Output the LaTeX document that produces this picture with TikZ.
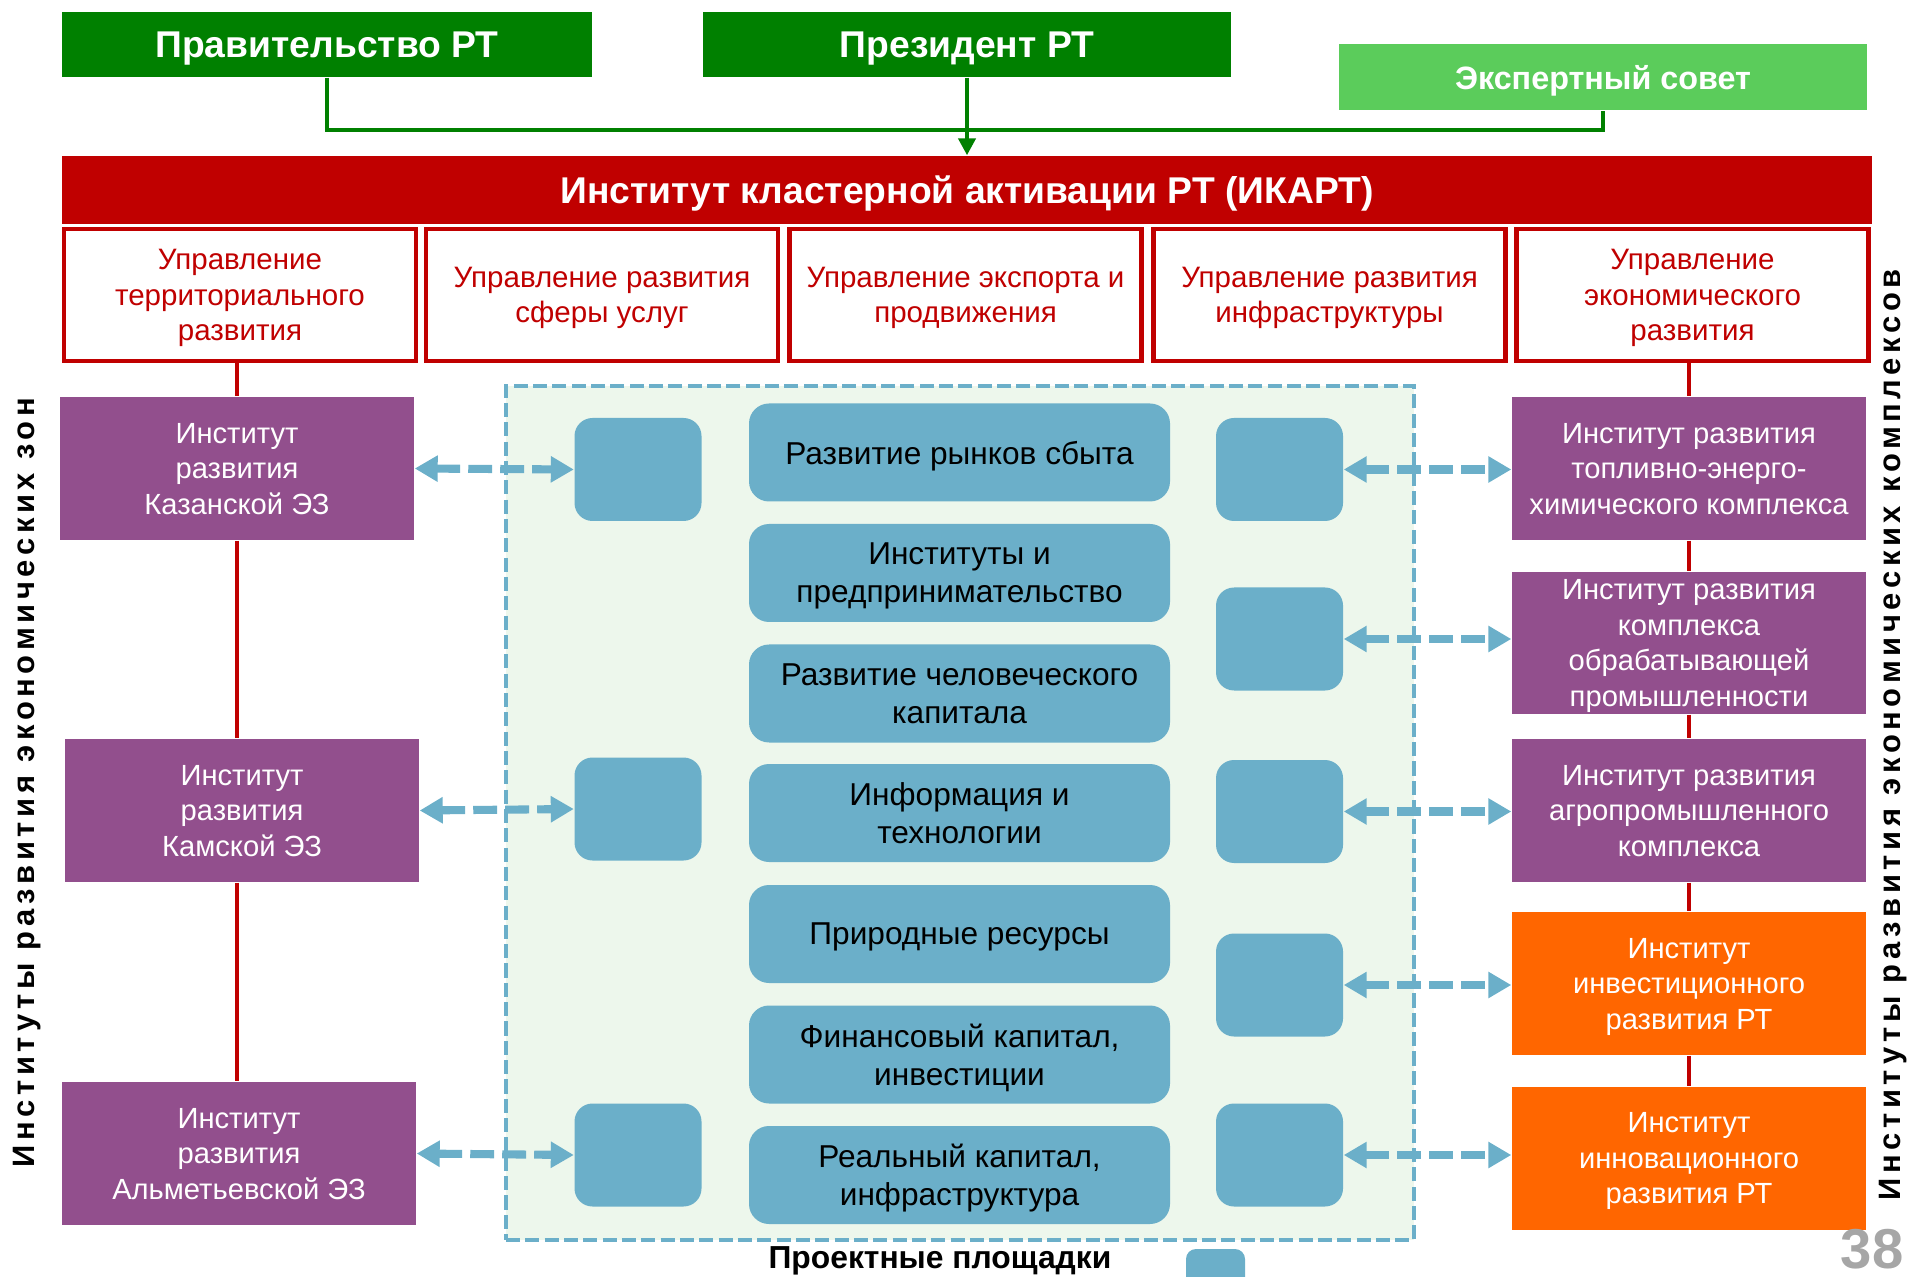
\documentclass[tikz,border=0pt]{standalone}
\usepackage{fontspec}
\setmainfont{Liberation Sans}
\usetikzlibrary{arrows.meta}

\definecolor{govgreen}{HTML}{008000}
\definecolor{expgreen}{HTML}{5BCC5B}
\definecolor{ikred}{HTML}{C00000}
\definecolor{zonepurple}{HTML}{924F8D}
\definecolor{rtorange}{HTML}{FF6600}
\definecolor{siteblue}{HTML}{6BAFC9}
\definecolor{zonefill}{HTML}{EDF7EC}
\definecolor{pagegrey}{HTML}{A6A6A6}

\tikzset{
  topbox/.style={rectangle, fill=govgreen, text=white, inner sep=0pt, text depth=0pt,
    font=\fontsize{10.6}{12}\selectfont\bfseries, minimum height=0.65cm},
  deptbox/.style={rectangle, draw=ikred, line width=1.3pt, fill=white, text=ikred,
    align=center, inner sep=1pt, text depth=0pt, minimum width=3.52cm, minimum height=1.32cm,
    font=\fontsize{8.4}{10.1}\selectfont},
  zonebox/.style={rectangle, fill=zonepurple, text=white, align=center, inner sep=1pt,
    text depth=0pt, minimum width=3.54cm, minimum height=1.43cm,
    font=\fontsize{8.3}{10.1}\selectfont},
  rtbox/.style={zonebox, fill=rtorange},
  factorbox/.style={rectangle, rounded corners=0.2cm, fill=siteblue, align=center,
    inner sep=1pt, text depth=0pt, minimum width=4.21cm, minimum height=0.98cm,
    font=\fontsize{9}{10.8}\selectfont},
  sitebox/.style={rectangle, rounded corners=0.18cm, fill=siteblue,
    minimum width=1.27cm, minimum height=1.03cm},
  link/.style={draw=ikred, line width=0.9pt},
  flow/.style={draw=siteblue, line width=2.3pt, dash pattern=on 6.8pt off 2.3pt,
    {Triangle[length=0.23cm,width=0.25cm]}-{Triangle[length=0.23cm,width=0.25cm]}},
  sidetext/.style={rotate=90, font=\fontsize{8.8}{11}\selectfont\bfseries\addfontfeature{LetterSpace=15}}
}

\begin{document}
\begin{tikzpicture}
    \useasboundingbox (0,0) rectangle (19.15,-12.77);

    % Top level
    \node[topbox, minimum width=5.30cm] (gov) at (3.27,-0.445) {Правительство РТ};
    \node[topbox, minimum width=5.28cm] (pres) at (9.67,-0.445) {Президент РТ};
    \node[topbox, fill=expgreen, minimum width=5.28cm, minimum height=0.66cm,
          font=\fontsize{9.2}{11}\selectfont\bfseries] (expert) at (16.03,-0.77) {Экспертный совет};

    \node[rectangle, fill=ikred, text=white, text depth=0pt, minimum width=18.10cm, minimum height=0.68cm,
          font=\fontsize{10.6}{12}\selectfont\bfseries] (ikart) at (9.67,-1.90)
          {Институт кластерной активации РТ (ИКАРТ)};

    % Connections to ICART
    \coordinate (join) at (9.67,-1.30);
    \draw[govgreen, line width=1.3pt] (gov.south) |- (join) -| (expert.south);
    \draw[govgreen, line width=1.2pt, -{Triangle[length=0.17cm,width=0.17cm]}] (pres.south) -- (ikart.north);

    % Departments
    \node[deptbox] (dep1) at (2.40,-2.95) {Управление\\территориального\\развития};
    \node[deptbox] (dep2) at (6.02,-2.95) {Управление развития\\сферы услуг};
    \node[deptbox] (dep3) at (9.655,-2.95) {Управление  экспорта и\\продвижения};
    \node[deptbox] (dep4) at (13.295,-2.95) {Управление развития\\инфраструктуры};
    \node[deptbox] (dep5) at (16.925,-2.95) {Управление\\экономического\\развития};

    % Project area
    \node[rectangle, draw=siteblue, fill=zonefill, line width=1.4pt, dash pattern=on 4pt off 1.5pt,
          minimum width=9.08cm, minimum height=8.54cm] (area) at (9.60,-8.13) {};

    % Factors
    \node[factorbox] (f1) at (9.595,-4.525) {Развитие рынков сбыта};
    \node[factorbox] (f2) at (9.595,-5.73) {Институты и\\предпринимательство};
    \node[factorbox] (f3) at (9.595,-6.935) {Развитие человеческого\\капитала};
    \node[factorbox] (f4) at (9.595,-8.13) {Информация и\\технологии};
    \node[factorbox] (f5) at (9.595,-9.34) {Природные ресурсы};
    \node[factorbox] (f6) at (9.595,-10.545) {Финансовый капитал,\\инвестиции};
    \node[factorbox] (f7) at (9.595,-11.75) {Реальный капитал,\\инфраструктура};

    % Project sites
    \node[sitebox] (ls1) at (6.38,-4.695) {};
    \node[sitebox] (ls2) at (6.38,-8.09) {};
    \node[sitebox] (ls3) at (6.38,-11.55) {};
    \node[sitebox] (rs1) at (12.795,-4.695) {};
    \node[sitebox] (rs2) at (12.795,-6.39) {};
    \node[sitebox] (rs3) at (12.795,-8.115) {};
    \node[sitebox] (rs4) at (12.795,-9.85) {};
    \node[sitebox] (rs5) at (12.795,-11.55) {};

    % Economic zones
    \node[zonebox] (kazan) at (2.37,-4.685) {Институт\\развития\\Казанской ЭЗ};
    \node[zonebox] (kama) at (2.42,-8.105) {Институт\\развития\\Камской ЭЗ};
    \node[zonebox] (almet) at (2.39,-11.535) {Институт\\развития\\Альметьевской ЭЗ};

    % Economic complexes
    \node[zonebox] (fuel) at (16.89,-4.685) {Институт развития\\топливно-энерго-\\химического комплекса};
    \node[zonebox, minimum height=1.42cm] (manuf) at (16.89,-6.43) {Институт развития\\комплекса\\обрабатывающей\\промышленности};
    \node[zonebox] (agro) at (16.89,-8.105) {Институт развития\\агропромышленного\\комплекса};
    \node[rtbox] (invest) at (16.89,-9.835) {Институт\\инвестиционного\\развития РТ};
    \node[rtbox] (innov) at (16.89,-11.58) {Институт\\инновационного\\развития РТ};

    % Red links
    \draw[link] (dep1.south -| kazan.north) -- (kazan.north);
    \draw[link] (kazan.south) -- (kazan.south |- kama.north);
    \draw[link] (kazan.south |- kama.south) -- (kazan.south |- almet.north);
    \draw[link] (dep5.south -| fuel.north) -- (fuel.north);
    \draw[link] (fuel.south) -- (manuf.north);
    \draw[link] (manuf.south) -- (agro.north);
    \draw[link] (agro.south) -- (invest.north);
    \draw[link] (invest.south) -- (innov.north);

    % Links to project sites
    \draw[flow] (kazan.east) -- (ls1.west);
    \draw[flow] (kama.east) -- (ls2.west);
    \draw[flow] (almet.east) -- (ls3.west);
    \draw[flow] (rs1.east) -- (rs1.east -| fuel.west);
    \draw[flow] (rs2.east) -- (rs2.east -| manuf.west);
    \draw[flow] (rs3.east) -- (rs3.east -| agro.west);
    \draw[flow] (rs4.east) -- (rs4.east -| invest.west);
    \draw[flow] (rs5.east) -- (rs5.east -| innov.west);

    % Side captions
    \node[sidetext] (zonetitle) at (0.27,-7.83) {Институты развития экономических зон};
    \node[sidetext] (complextitle) at (18.93,-7.35) {Институты развития экономических комплексов};

    % Legend
    \node[font=\fontsize{9.05}{11}\selectfont\bfseries] (legend) at (9.40,-12.61) {Проектные площадки};
    \node[rectangle, rounded corners=0.1cm, fill=siteblue, minimum width=0.59cm, minimum height=0.5cm] (legendbox) at (12.155,-12.74) {};
    \node[text=pagegrey, font=\fontsize{16}{19}\selectfont\bfseries] (pagenum) at (18.72,-12.49) {38};
\end{tikzpicture}
\end{document}
